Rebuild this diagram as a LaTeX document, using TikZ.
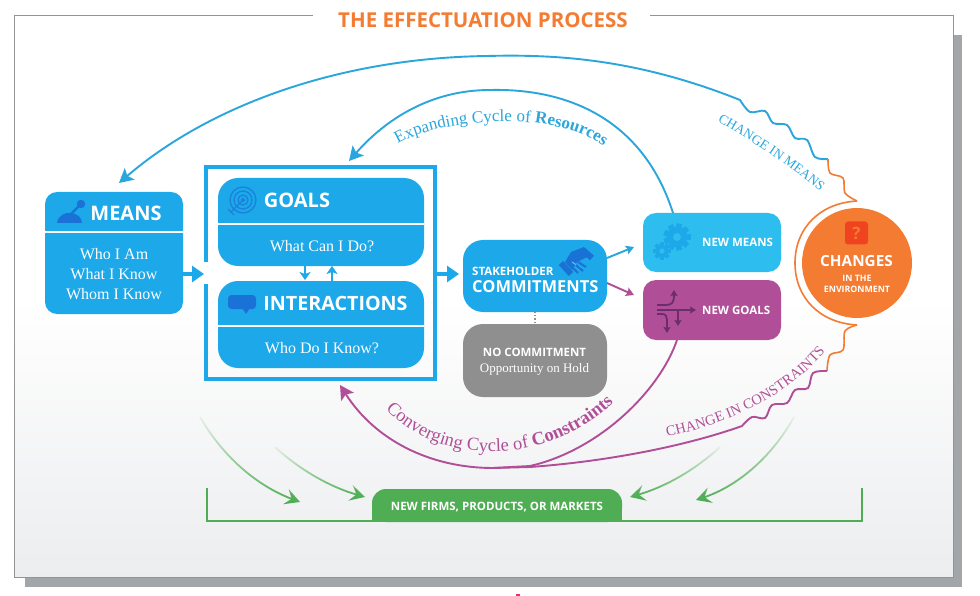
\documentclass[tikz,border=0pt]{standalone}
\usepackage{fontspec}
\setmainfont{Liberation Serif}
\newfontfamily\sansf{Open Sans}
\usetikzlibrary{arrows.meta,calc,decorations.text,fadings}
\definecolor{cblue}{HTML}{1CA8E9}
\definecolor{clight}{HTML}{2DBDEE}
\definecolor{cline}{HTML}{2AA6DC}
\definecolor{cdeep}{HTML}{1A72D6}
\definecolor{cpurple}{HTML}{B04F97}
\definecolor{cdpurple}{HTML}{6B2D6E}
\definecolor{cgreen}{HTML}{4FAE53}
\definecolor{corange}{HTML}{F47B32}
\definecolor{cred}{HTML}{F0431F}
\definecolor{cgrey}{HTML}{8F8F8F}
\definecolor{cframe}{HTML}{929496}
\definecolor{cshadow}{HTML}{A2A6A8}
\definecolor{cpale}{HTML}{ECEDEF}
\newcommand{\fz}[1]{\fontsize{#1}{#1}\selectfont}
\tikzfading[name=gfade,top color=transparent!92,bottom color=transparent!0]
\tikzset{
  box/.style={inner sep=0pt,outer sep=0pt,draw=none},
  head/.style={inner sep=0pt,text=white,font=\sansf\bfseries},
  body/.style={inner sep=0pt,text=white,font=\rmfamily},
  divider/.style={white,line width=2pt},
  fat/.style={cblue,line width=3.4pt,-{Triangle[length=12pt,width=16pt]}},
  small/.style={cblue,line width=1.3pt,-{Stealth[length=8pt,width=11pt,inset=2pt]}},
  thin blue/.style={cline,line width=1.9pt},
  thin purple/.style={cpurple,line width=1.9pt},
  thin orange/.style={corange,line width=1.6pt},
  bighead/.style={-{Stealth[length=14pt,width=15pt,inset=3pt]}},
  minihead/.style={-{Stealth[length=8pt,width=9pt,inset=1.5pt]}},
  greenarrow/.style={cgreen,line width=1.8pt,path fading=gfade,-{Stealth[length=15pt,width=16pt,inset=6pt]}},
}
\newcommand{\gearicon}[5]{% x y r teeth holecolour
  \foreach \a in {1,...,#4}{
    \draw[cblue,line width=#3*0.42pt] ({#1+cos(\a*360/#4)*#3*0.6},{#2+sin(\a*360/#4)*#3*0.6}) -- ({#1+cos(\a*360/#4)*#3},{#2+sin(\a*360/#4)*#3});
  }
  \fill[cblue] (#1,#2) circle[radius=#3*0.76];
  \fill[#5] (#1,#2) circle[radius=#3*0.3];
}
\begin{document}
\begin{tikzpicture}[x=1pt,y=-1pt]
\useasboundingbox (0,0) rectangle (980,596);
% frame
\fill[cshadow] (25,35) rectangle (962,587);
\fill[white] (14,16) rectangle (953,300);
\shade[top color=white,bottom color=cpale] (14,300) rectangle (953,577);
\draw[cframe,line width=1pt] (313,16) -- (14,16) -- (14,577) -- (953,577) -- (953,16) -- (650,16);
\fill[white] (313,8) rectangle (650,20);
\fill[cred!60!magenta] (516,594) rectangle (520,596);
\node[inner sep=0pt,text=corange,font=\sansf\bfseries\fz{20.5}] (title) at (483,20) {THE EFFECTUATION PROCESS};

% boxes
\node[box,fill=cblue,rounded corners=12pt,minimum width=138pt,minimum height=122pt] (means) at (114,253) {};
\draw[divider] (means.west |- 0,232) -- (means.east |- 0,232);
\node[box,draw=cblue,line width=3.5pt,minimum width=229pt,minimum height=212pt] (outer) at (320.5,273) {};
\fill[white] (203,262) rectangle (209,284);
\node[box,fill=cblue,rounded corners=20pt,minimum width=206pt,minimum height=88pt] (goals) at (321,222) {};
\draw[divider] (goals.west |- 0,224) -- (goals.east |- 0,224);
\node[box,fill=cblue,rounded corners=20pt,minimum width=206pt,minimum height=87pt] (inter) at (321,324.5) {};
\draw[divider] (inter.west |- 0,326) -- (inter.east |- 0,326);
\node[box,fill=cblue,rounded corners=20pt,minimum width=144pt,minimum height=72pt] (stake) at (535,276) {};
\node[box,fill=cgrey,rounded corners=20pt,minimum width=144pt,minimum height=73pt] (nocom) at (535,360.5) {};
\node[box,fill=clight,rounded corners=13pt,minimum width=138pt,minimum height=59pt] (newmeans) at (712,242.5) {};
\node[box,fill=cpurple,rounded corners=13pt,minimum width=138pt,minimum height=60pt] (newgoals) at (712,310) {};
\node[box,fill=corange,circle,minimum size=110pt] (changes) at (857,263) {};
\node[box,fill=cgreen,minimum width=250pt,minimum height=33pt,rounded corners=14pt] (firms) at (497,505.5) {};
\fill[cgreen] (372,508) rectangle (622,522);

% labels
\node[head,font=\sansf\bfseries\fz{20}] (tm) at (126,213) {MEANS};
\node[body,font=\rmfamily\fz{16}] (t1) at (114,254) {Who I Am};
\node[body,font=\rmfamily\fz{16}] (t2) at (114,274) {What I Know};
\node[body,font=\rmfamily\fz{16}] (t3) at (114,294) {Whom I Know};
\node[head,font=\sansf\bfseries\fz{20}] (tg) at (297,200) {GOALS};
\node[body,font=\rmfamily\fz{16}] (tg2) at (322,246) {What Can I Do?};
\node[head,font=\sansf\bfseries\fz{19.7}] (ti) at (335.5,303) {INTERACTIONS};
\node[body,font=\rmfamily\fz{16}] (ti2) at (322,348) {Who Do I Know?};
\node[head,font=\sansf\bfseries\fz{11.5},anchor=west] (ts) at (472,271) {STAKEHOLDER};
\node[head,font=\sansf\bfseries\fz{16.5},anchor=west] (tc) at (472,287) {COMMITMENTS};
\node[head,font=\sansf\bfseries\fz{11.5}] (tn) at (534.5,352) {NO COMMITMENT};
\node[body,font=\rmfamily\fz{13}] (to) at (534.5,369) {Opportunity on Hold};
\node[head,font=\sansf\bfseries\fz{11.5},anchor=west] (tnm) at (702,242) {NEW MEANS};
\node[head,font=\sansf\bfseries\fz{11.5},anchor=west] (tng) at (702,310) {NEW GOALS};
\node[head,font=\sansf\bfseries\fz{15.3}] (tch) at (856.5,261) {CHANGES};
\node[head,font=\sansf\bfseries\fz{8.8}] (tit) at (857,278) {IN THE};
\node[head,font=\sansf\bfseries\fz{8.8}] (ten) at (857,289) {ENVIRONMENT};
\node[head,font=\sansf\bfseries\fz{11.5}] (tf) at (497,507) {NEW FIRMS, PRODUCTS, OR MARKETS};

% question icon
\node[box,fill=cred,rounded corners=3pt,minimum size=23pt,text=corange,font=\sansf\bfseries\fz{17}] (qm) at (856.5,233) {?};

% lever icon
\fill[cdeep] (57,223) .. controls (58,215) and (66,212) .. (71,213) .. controls (77,213) and (82,218) .. (82,223) -- cycle;
\draw[cdeep,line width=2.2pt] (71,214) -- (81,204);
\fill[cdeep] (81,204) circle[radius=4.2];
% target icon
\foreach \r in {13,9,5}{\draw[cdeep!70!cblue,line width=1.3pt] (243,200) circle[radius=\r];}
\fill[cdeep!70!cblue] (243,200) circle[radius=2];
\draw[cdeep!70!cblue,line width=1.3pt] (243,200) -- (231,212);
\draw[cdeep!70!cblue,line width=1.2pt] (228,209) -- (234,215);
% speech icon
\fill[cdeep,rounded corners=3.5pt] (228,295) rectangle (256,309);
\fill[cdeep] (242,308) -- (250,308) -- (246,314) -- cycle;
% handshake icon
\begin{scope}[cdeep]
\draw[line width=6pt] (583,250) -- (592,258);
\draw[line width=6pt] (561,263) -- (571,274);
\fill (584,247) -- (571,252) -- (565,262) -- (572,270) -- (577,262) -- (589,256) -- cycle;
\draw[cblue!70!white,line width=1pt] (572,262) -- (581,268);
\draw[line width=2pt] (573,268) -- (578,273) ;
\draw[line width=2pt] (578,262) -- (586,267) ;
\draw[line width=2pt] (576,265) -- (583,271) ;
\end{scope}
% gears
\gearicon{677}{237}{13.5}{9}{clight}
\gearicon{662}{251}{9}{8}{clight}
% new goals icon
\begin{scope}[cdpurple,line width=1.8pt]
\draw[-{Stealth[length=6pt,width=7pt,inset=1pt]}] (657,310) -- (696,310);
\draw[-{Stealth[length=6pt,width=7pt,inset=1pt]}] (657,305) -- (666,305) .. controls (672,305) and (674,302) .. (674,296) -- (674,290);
\draw[-{Stealth[length=6pt,width=7pt,inset=1pt]}] (657,314) -- (662,314) .. controls (666,314) and (667,317) .. (667,320) -- (667,333);
\draw[-{Stealth[length=6pt,width=7pt,inset=1pt]}] (678,310) -- (678,326);
\end{scope}

% small connectors
\coordinate (mo) at (183,274); \coordinate (oi) at (204,274);
\draw[fat] (mo) -- (oi);
\coordinate (os) at (436,274); \coordinate (si) at (459,274);
\draw[fat] (os) -- (si);
\coordinate (g1) at (305,262); \coordinate (i1) at (305,280);
\draw[small] (g1) -- (i1);
\coordinate (i2) at (332,284); \coordinate (g2) at (332,266);
\draw[small] (i2) -- (g2);
\coordinate (s1) at (607,258); \coordinate (nm1) at (634,247);
\draw[thin blue,minihead] (s1) -- (nm1);
\coordinate (s2) at (607,283); \coordinate (ng1) at (634,295);
\draw[thin purple,minihead] (s2) -- (ng1);
\draw[cgrey,line width=1.2pt,dotted] (stake.south) -- (nocom.north);

% big cycles
\coordinate (meanstip) at (119,183);
\coordinate (goalstip) at (349,161);
\coordinate (outertip) at (340,385);
\coordinate (nmtop) at (673,213);
\coordinate (ngbot) at (677,340);
\draw[thin blue,bighead] (nmtop) .. controls (645,125) and (575,88) .. (490,90) .. controls (430,90) and (385,120) .. (goalstip);
\draw[thin blue,bighead] plot[smooth,tension=0.55] coordinates {(828,159) (815,157) (807,140) (795,138) (787,125) (773,123) (765,111) (750,112) (740,100)} .. controls (640,60) and (560,54) .. (487,56) .. controls (340,58) and (210,105) .. (meanstip);
\draw[thin orange] plot[smooth,tension=0.55] coordinates {(828,159) (830,173) (843,178) (845,193) (857,201)};
\draw[thin orange] (857,201) .. controls (820,203) and (795,228) .. (795,263) .. controls (795,298) and (820,323) .. (857,325);
\draw[thin orange] plot[smooth,tension=0.55] coordinates {(857,325) (845,331) (843,350) (830,355) (827,371)};
\draw[thin purple] plot[smooth,tension=0.55] coordinates {(827,371) (813,373) (808,388) (795,390) (787,403) (772,405) (765,418) (752,417) (742,426)} .. controls (680,448) and (600,462) .. (530,467) -- (493,468);
\draw[thin purple] (ngbot) .. controls (660,390) and (600,450) .. (530,466) -- (493,468);
\draw[thin purple,bighead] (493,468) .. controls (430,468) and (375,440) .. (outertip);

% curved labels
\path[decorate,decoration={text along path,text align=center,text={|\rmfamily\fz{17}\color{cline}|Expanding Cycle of |\rmfamily\bfseries\fz{17}\color{cline}|Resources}}] (393,147) .. controls (430,120) and (555,105) .. (608,150);
\path[decorate,decoration={text along path,text align=center,text={|\rmfamily\fz{18.5}\color{cpurple}|Converging Cycle of |\rmfamily\bfseries\fz{18.5}\color{cpurple}|Constraints}}] (378,400) .. controls (430,468) and (550,472) .. (622,394);
\path[decorate,decoration={text along path,text align=center,text={|\rmfamily\fz{13.5}\color{cline}|CHANGE IN MEANS}}] (712,118) .. controls (750,140) and (790,165) .. (825,196);
\path[decorate,decoration={text along path,text align=center,text={|\rmfamily\fz{14.5}\color{cpurple}|CHANGE IN CONSTRAINTS}}] (660,438) .. controls (730,425) and (790,395) .. (830,346);

% bracket
\coordinate (bl) at (207,488); \coordinate (bl2) at (207,521); \coordinate (br) at (862,488); \coordinate (br2) at (862,521);
\draw[cgreen,line width=2.2pt] (bl) -- (bl2) -- (br2) -- (br);
% green arrows
\coordinate (ga1) at (200,417); \coordinate (gb1) at (300,502);
\coordinate (ga2) at (275,447); \coordinate (gb2) at (365,497);
\coordinate (ga3) at (720,447); \coordinate (gb3) at (630,497);
\coordinate (ga4) at (794,417); \coordinate (gb4) at (696,500);
\draw[greenarrow] (ga1) .. controls (225,460) and (260,487) .. (gb1);
\draw[greenarrow] (ga2) .. controls (300,470) and (330,487) .. (gb2);
\draw[greenarrow] (ga3) .. controls (695,470) and (665,487) .. (gb3);
\draw[greenarrow] (ga4) .. controls (770,460) and (735,487) .. (gb4);
\end{tikzpicture}
\end{document}
